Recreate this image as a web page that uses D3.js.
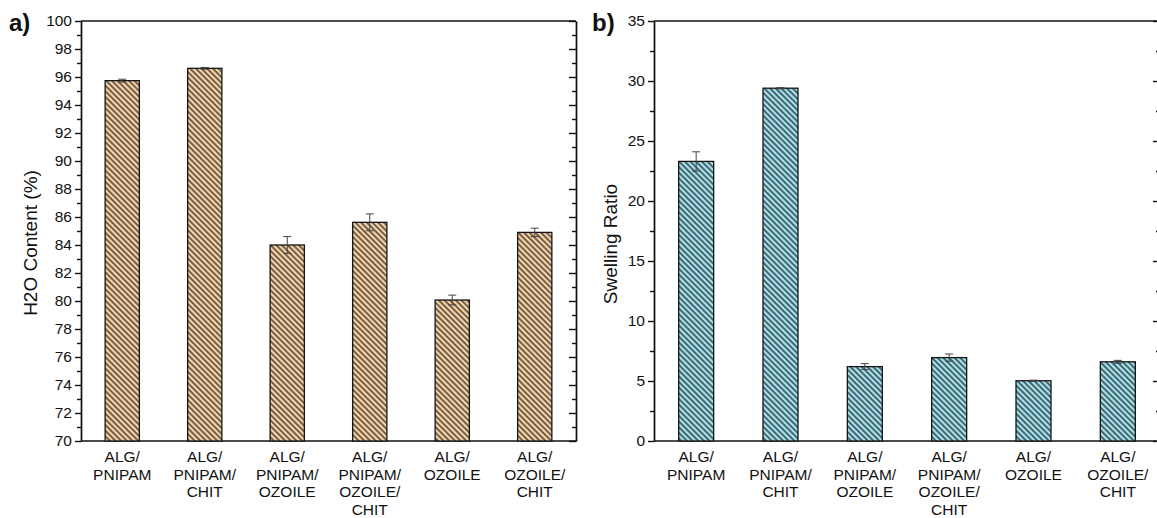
<!DOCTYPE html>
<html>
<head>
<meta charset="utf-8">
<script src="https://cdn.jsdelivr.net/npm/d3@7"></script>
<style>
  body { margin: 0; background: #fff; }
  svg { display: block; font-family: "Liberation Sans", Arial, sans-serif; }
</style>
</head>
<body>
<div id="chart"></div>
<script>
// categories shared by both panels
var categories = ['ALG/PNIPAM', 'ALG/PNIPAM/CHIT', 'ALG/PNIPAM/OZOILE', 'ALG/PNIPAM/OZOILE/CHIT', 'ALG/OZOILE', 'ALG/OZOILE/CHIT'];

// panel a - water content
var waterContent = [95.74, 96.62, 84.0, 85.62, 80.07, 84.9];
var waterErr = [0.1, 0.06, 0.6, 0.6, 0.35, 0.3];
var waterTicks = [70, 72, 74, 76, 78, 80, 82, 84, 86, 88, 90, 92, 94, 96, 98, 100];

// panel b - swelling ratio
var swelling = [23.3, 29.4, 6.2, 6.95, 5.02, 6.6];
var swellingErr = [0.8, 0.05, 0.25, 0.3, 0.05, 0.12];
var swellingTicks = [0, 5, 10, 15, 20, 25, 30, 35];

var width = 1157;
var height = 518;

var svg = d3.select('#chart').append('svg')
    .attr('width', width)
    .attr('height', height);

var defs = svg.append('defs');

// diagonal hatch fill, lines running top-left to bottom-right
function makeHatch(id, bg, fg) {
    var p = defs.append('pattern')
        .attr('id', id)
        .attr('patternUnits', 'userSpaceOnUse')
        .attr('width', 4)
        .attr('height', 4)
        .attr('patternTransform', 'rotate(45)');
    p.append('rect').attr('width', 4).attr('height', 4).attr('fill', bg);
    p.append('line')
        .attr('x1', 0).attr('y1', 2).attr('x2', 4).attr('y2', 2)
        .attr('stroke', fg)
        .attr('stroke-width', 1.5);
}
makeHatch('hatchA', '#f5d6ab', '#4d3828');
makeHatch('hatchB', '#a9e2ea', '#243f4a');

function labelLines(name) {
    return name.split(/(?<=\/)/);
}

function drawPanel(o) {
    var g = svg.append('g');

    var x = d3.scaleBand()
        .domain(categories)
        .range([o.left, o.right])
        .paddingInner(0.585)
        .paddingOuter(0.2925);

    var y = d3.scaleLinear()
        .domain(o.domain)
        .range([o.bottom, o.top]);

    //minor ticks halfway between the major ones
    var minor = [];
    for (var i = 0; i < o.ticks.length - 1; i += 1) {
        minor.push((o.ticks[i] + o.ticks[i + 1]) / 2);
    }

    // left axis, ticks out
    var left = g.append('g')
        .attr('transform', 'translate(' + o.left + ',0)')
        .call(d3.axisLeft(y).tickValues(o.ticks).tickSize(6).tickPadding(3).tickSizeOuter(0));
    g.append('g')
        .attr('transform', 'translate(' + o.left + ',0)')
        .call(d3.axisLeft(y).tickValues(minor).tickSize(4).tickFormat('').tickSizeOuter(0));

    // right axis, ticks pointing in
    g.append('g')
        .attr('transform', 'translate(' + o.right + ',0)')
        .call(d3.axisRight(y).tickValues(o.ticks).tickSize(-7).tickFormat('').tickSizeOuter(0));
    g.append('g')
        .attr('transform', 'translate(' + o.right + ',0)')
        .call(d3.axisRight(y).tickValues(minor).tickSize(-4).tickFormat('').tickSizeOuter(0));

    g.selectAll('.domain, .tick line')
        .attr('stroke', '#111')
        .attr('stroke-width', 1.4);

    left.selectAll('.tick text')
        .attr('font-size', '15.5px')
        .attr('font-family', '"Liberation Sans", Arial, sans-serif')
        .attr('fill', '#111');

    // top and bottom frame lines
    g.append('line')
        .attr('x1', o.left).attr('x2', o.right)
        .attr('y1', o.top).attr('y2', o.top)
        .attr('stroke', '#111').attr('stroke-width', 1.4);
    g.append('line')
        .attr('x1', o.left).attr('x2', o.right)
        .attr('y1', o.bottom).attr('y2', o.bottom)
        .attr('stroke', '#111').attr('stroke-width', 1.6);

    // bars
    g.selectAll('rect.bar')
        .data(o.values)
        .enter()
        .append('rect')
        .attr('class', 'bar')
        .attr('x', function (d, i) { return x(categories[i]); })
        .attr('y', function (d) { return y(d); })
        .attr('width', x.bandwidth())
        .attr('height', function (d) { return y(o.domain[0]) - y(d); })
        .attr('fill', 'url(#' + o.hatch + ')')
        .attr('stroke', '#151515')
        .attr('stroke-width', 1.3);

    // error bars
    var err = g.selectAll('g.err')
        .data(o.values)
        .enter()
        .append('g')
        .attr('class', 'err')
        .attr('stroke', '#444')
        .attr('stroke-width', 1);
    var cx = function (i) { return x(categories[i]) + x.bandwidth() / 2; };
    err.append('line')
        .attr('x1', function (d, i) { return cx(i); })
        .attr('x2', function (d, i) { return cx(i); })
        .attr('y1', function (d, i) { return y(d + o.errors[i]); })
        .attr('y2', function (d, i) { return y(d - o.errors[i]); });
    err.append('line')
        .attr('x1', function (d, i) { return cx(i) - 4; })
        .attr('x2', function (d, i) { return cx(i) + 4; })
        .attr('y1', function (d, i) { return y(d + o.errors[i]); })
        .attr('y2', function (d, i) { return y(d + o.errors[i]); });
    err.append('line')
        .attr('x1', function (d, i) { return cx(i) - 4; })
        .attr('x2', function (d, i) { return cx(i) + 4; })
        .attr('y1', function (d, i) { return y(d - o.errors[i]); })
        .attr('y2', function (d, i) { return y(d - o.errors[i]); });

    // category labels, one line per slash part
    var cat = g.selectAll('text.cat')
        .data(categories)
        .enter()
        .append('text')
        .attr('class', 'cat')
        .attr('text-anchor', 'middle')
        .attr('font-size', '15.5px')
        .attr('fill', '#111');
    cat.each(function (d) {
        var t = d3.select(this);
        var xc = x(d) + x.bandwidth() / 2;
        labelLines(d).forEach(function (s, k) {
            t.append('tspan')
                .attr('x', xc)
                .attr('y', o.bottom + 21 + k * 17.5)
                .text(s);
        });
    });

    // y title
    g.append('text')
        .attr('transform', 'translate(' + o.titleX + ',' + o.titleY + ') rotate(-90)')
        .attr('text-anchor', 'middle')
        .attr('font-size', '19px')
        .attr('fill', '#111')
        .text(o.title);

    // panel letter
    g.append('text')
        .attr('x', o.letterX)
        .attr('y', 31)
        .attr('font-size', '24px')
        .attr('font-weight', 'bold')
        .attr('fill', '#111')
        .text(o.letter);
}

drawPanel({
    left: 81, right: 576, top: 21, bottom: 441,
    domain: [70, 100],
    ticks: waterTicks,
    values: waterContent,
    errors: waterErr,
    hatch: 'hatchA',
    title: 'H2O Content (%)',
    titleX: 37, titleY: 243,
    letter: 'a)', letterX: 9
});

drawPanel({
    left: 654, right: 1160, top: 21, bottom: 441,
    domain: [0, 35],
    ticks: swellingTicks,
    values: swelling,
    errors: swellingErr,
    hatch: 'hatchB',
    title: 'Swelling Ratio',
    titleX: 617, titleY: 244,
    letter: 'b)', letterX: 592
});
</script>
</body>
</html>
